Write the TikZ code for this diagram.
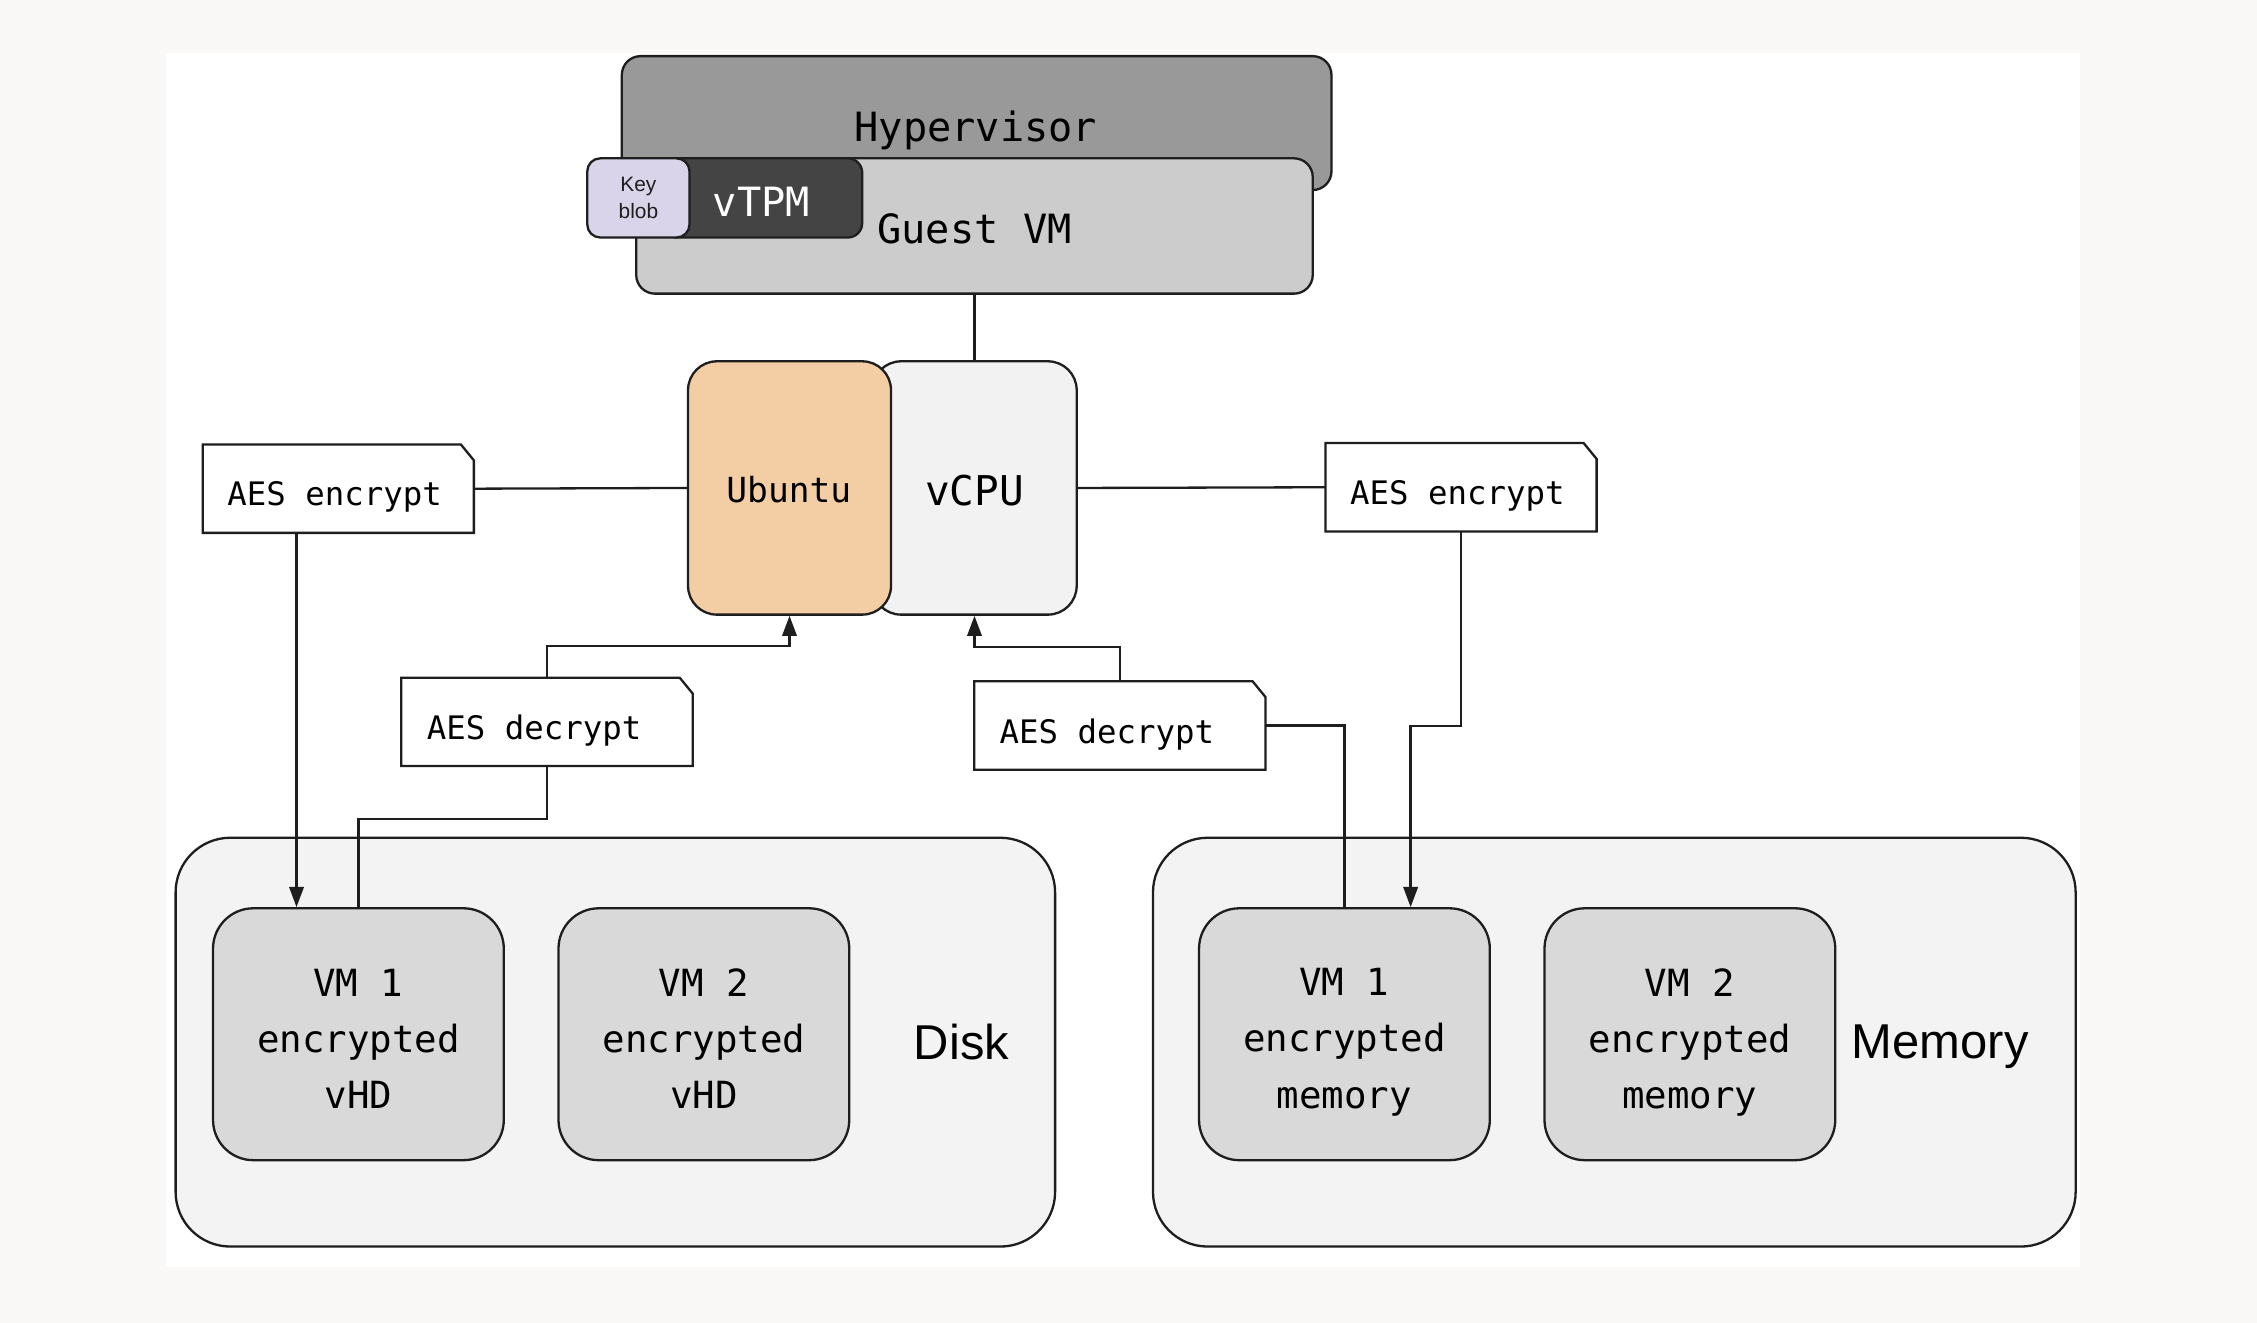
\documentclass[tikz,border=0pt]{standalone}
\usepackage{fontspec}
\setmainfont{Liberation Sans}
\setsansfont{Liberation Sans}
\setmonofont{DejaVu Sans Mono}
\usetikzlibrary{arrows.meta,calc}
\definecolor{pagebg}{HTML}{F9F8F6}
\definecolor{lineC}{HTML}{1E1E1E}
\definecolor{hypC}{HTML}{999999}
\definecolor{guestC}{HTML}{CCCCCC}
\definecolor{tpmC}{HTML}{444444}
\definecolor{keyC}{HTML}{D9D4E9}
\definecolor{ubuC}{HTML}{F3CEA4}
\definecolor{cpuC}{HTML}{F2F2F2}
\definecolor{contC}{HTML}{F3F3F3}
\definecolor{vmC}{HTML}{D9D9D9}
\newcommand\cardframe[1]{\draw[cardline] (#1.south west) -- (#1.north west) -- ([xshift=-9pt]#1.north east) -- ([yshift=-11pt]#1.north east) -- (#1.south east) -- cycle;}
\begin{document}
\begin{tikzpicture}[x=1pt,y=-1pt,
  box/.style={draw=lineC, line width=1.6pt, inner sep=0pt, align=center},
  monoL/.style={font=\ttfamily\fontsize{28}{34}\selectfont, inner sep=0pt},
  monoM/.style={font=\ttfamily\fontsize{26}{39}\selectfont, inner sep=0pt, align=center},
  monoS/.style={font=\ttfamily\fontsize{22.5}{27}\selectfont, inner sep=0pt},
  aes/.style={rectangle, inner sep=0pt, minimum width=188pt, minimum height=61pt},
  aesd/.style={aes, minimum width=202pt},
  cardline/.style={draw=lineC, line width=1.6pt},
  vmbox/.style={box, fill=vmC, rounded corners=28pt, minimum width=202pt, minimum height=175pt},
  cont/.style={box, fill=contC, rounded corners=38pt, minimum height=284pt},
  conn/.style={draw=lineC, line width=1.6pt},
  arr/.style={conn, -{Triangle[length=14pt,width=10pt]}},
  biglbl/.style={font=\sffamily\fontsize{34}{40}\selectfont, inner sep=0pt}
]
\useasboundingbox (0,0) rectangle (1568,919);
\fill[pagebg] (0,0) rectangle (1568,919);
\fill[white] (115,37) rectangle (1445,880);

% top stack
\node[box, fill=hypC, rounded corners=13pt, minimum width=493pt, minimum height=93pt] (hyp) at (678.5,85.5) {};
\node[monoL] (hyplbl) at (678,90.5) {Hypervisor};
\node[box, fill=guestC, rounded corners=13pt, minimum width=470pt, minimum height=94pt] (guest) at (677,157) {};
\node[monoL] (guestlbl) at (677,159) {Guest VM};
\node[box, fill=tpmC, rounded corners=10pt, minimum width=139pt, minimum height=55pt] (vtpm) at (529.5,137.5) {};
\node[monoL, text=white] (vtpmlbl) at (529,140) {vTPM};
\node[box, fill=keyC, rounded corners=9pt, minimum width=71pt, minimum height=55pt, font=\sffamily\fontsize{14.5}{19}\selectfont, text=lineC] (key) at (443.5,137.5) {Key\\blob};

% cpu pair
\node[box, fill=cpuC, rounded corners=20pt, minimum width=142pt, minimum height=176pt] (vcpu) at (677,339) {};
\node[monoL, font=\ttfamily\fontsize{28.5}{34}\selectfont] (vcpulbl) at (677,341) {vCPU};
\node[box, fill=ubuC, rounded corners=20pt, minimum width=141pt, minimum height=176pt, font=\ttfamily\fontsize{24}{30}\selectfont] (ubu) at (548.5,339) {};
\node[monoL, font=\ttfamily\fontsize{24}{30}\selectfont] (ubulbl) at (548,340) {Ubuntu};

% AES cards
\node[aes] (encL) at (235,339.5) {};
\node[aes] (encR) at (1015,338.5) {};
\node[aesd] (decL) at (380,501.5) {};
\node[aesd] (decR) at (778,504) {};
\cardframe{encL}
\cardframe{encR}
\cardframe{decL}
\cardframe{decR}
\node[monoS] (encLt) at ($(encL.center)+(-2.5,6)$) {AES encrypt};
\node[monoS] (encRt) at ($(encR.center)+(-2.5,6)$) {AES encrypt};
\node[monoS] (decLt) at ($(decL.center)+(-9,6)$) {AES decrypt};
\node[monoS] (decRt) at ($(decR.center)+(-9,6)$) {AES decrypt};

% containers
\node[cont, minimum width=611pt] (disk) at (427.5,724) {};
\node[cont, minimum width=641pt] (mem) at (1121.5,724) {};
\node[biglbl] (disklbl) at (668,724) {Disk};
\node[biglbl] (memlbl) at (1348,727.5) {Memory};
\node[vmbox] (vm1d) at (249,718.5) {};
\node[vmbox] (vm2d) at (489,718.5) {};
\node[vmbox] (vm1m) at (934,718.5) {};
\node[vmbox] (vm2m) at (1174,718.5) {};
\node[monoM] (vm1dt) at ($(vm1d.center)+(0,3)$) {VM 1\\encrypted\\vHD};
\node[monoM] (vm2dt) at ($(vm2d.center)+(0,3)$) {VM 2\\encrypted\\vHD};
\node[monoM] (vm1mt) at ($(vm1m.center)+(0,5.5)$) {VM 1\\encrypted\\memory};
\node[monoM] (vm2mt) at ($(vm2m.center)+(0,5.5)$) {VM 2\\encrypted\\memory};

% connectors
\draw[conn] (guest.south) -- (vcpu.north);
\draw[conn] (encL.east) -- (ubu.west);
\draw[conn] (vcpu.east) -- (encR.west);
\draw[arr] ([xshift=-29pt]encL.south) -- ([xshift=-43pt]vm1d.north);
\draw[conn] (vm1d.north) -- ++(0,-61) -| (decL.south);
\draw[arr] (decL.north) -- ++(0,-22) -| (ubu.south);
\draw[arr] (decR.north) -- ++(0,-24) -| (vcpu.south);
\draw[conn] (decR.east) -| (vm1m.north);
\draw[arr] (encR.south) -- ++(0,135) -- ++(-35,0) -- ([xshift=46pt]vm1m.north);
\end{tikzpicture}
\end{document}
